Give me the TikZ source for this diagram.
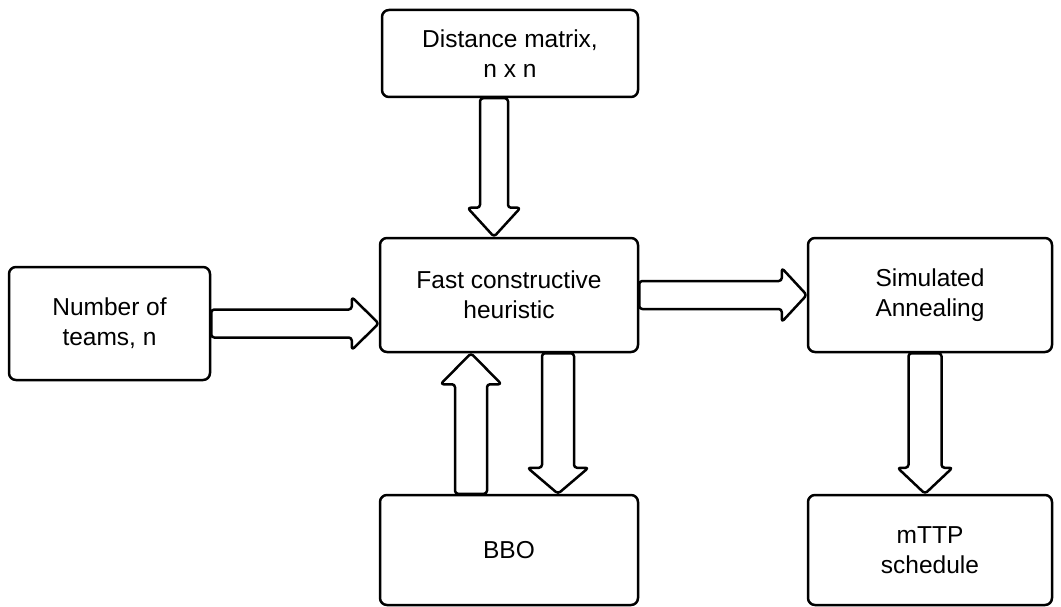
\documentclass[tikz,border=0pt]{standalone}
\usepackage{fontspec}
\setmainfont{Liberation Sans}
\usetikzlibrary{calc}

\tikzset{
  box/.style={draw=black, line width=2.5pt, rounded corners=7pt, fill=white,
    align=center, inner sep=0pt,
    font=\fontsize{24.5pt}{30pt}\selectfont},
  blockarr/.style={draw=black, line width=2.5pt, fill=white,
    rounded corners=3pt, line join=round}
}

% hollow block arrow from #1 (tail) to #2 (tip):
% #3 shaft half-width, #4 head half-width, #5 head length
\newcommand\blockarrow[5]{%
  \coordinate (bh) at ($(#2)!#5!(#1)$);
  \draw[blockarr]
    ($(#1)!#3!90:(#2)$) -- ($(bh)!#3!-90:(#1)$) -- ($(bh)!#4!-90:(#1)$)
    -- (#2)
    -- ($(bh)!#4!90:(#1)$) -- ($(bh)!#3!90:(#1)$) -- ($(#1)!#3!-90:(#2)$)
    -- cycle;
}

\begin{document}
\begin{tikzpicture}[x=1pt, y=-1pt]
\useasboundingbox (0,0) rectangle (1061,607);

\node[box, minimum width=256pt, minimum height=87pt]  (dm)  at (510,53.5)  {Distance matrix,\\n x n};
\node[box, minimum width=258pt, minimum height=114pt] (fch) at (509,295)   {Fast constructive\\heuristic};
\node[box, minimum width=201pt, minimum height=113pt] (nt)  at (109.5,323.5) {Number of\\teams, n};
\node[box, minimum width=244pt, minimum height=114pt] (sa)  at (930,295)   {Simulated\\Annealing};
\node[box, minimum width=258pt, minimum height=110pt] (bbo) at (509,550)   {BBO};
\node[box, minimum width=244pt, minimum height=110pt] (mt)  at (930,550)   {mTTP\\schedule};

% inputs into the heuristic
\coordinate (a1) at (nt.east);
\coordinate (b1) at (nt.east -| fch.west);
\blockarrow{a1}{b1}{14pt}{26.5pt}{27pt}

\coordinate (a2) at ([xshift=-16pt]dm.south);
\coordinate (b2) at (a2 |- fch.north);
\blockarrow{a2}{b2}{14pt}{26.5pt}{29pt}

% heuristic to annealing
\coordinate (a3) at (fch.east);
\coordinate (b3) at (fch.east -| sa.west);
\blockarrow{a3}{b3}{14pt}{27pt}{25pt}

% exchange with BBO
\coordinate (a4) at ([xshift=-38pt]bbo.north);
\coordinate (b4) at (a4 |- fch.south);
\blockarrow{a4}{b4}{16pt}{30.5pt}{31pt}

\coordinate (a5) at ([xshift=49pt]fch.south);
\coordinate (b5) at (a5 |- bbo.north);
\blockarrow{a5}{b5}{16pt}{30.5pt}{26pt}

% annealing to schedule
\coordinate (a6) at ([xshift=-5pt]sa.south);
\coordinate (b6) at (a6 |- mt.north);
\blockarrow{a6}{b6}{16.5pt}{27.5pt}{26pt}
\end{tikzpicture}
\end{document}
